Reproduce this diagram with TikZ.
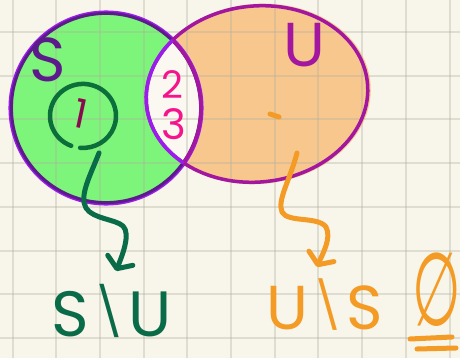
\documentclass[tikz,border=0pt]{standalone}
\usepackage{fontspec}
\setmainfont{Poppins}
\newfontfamily\dejavu{DejaVu Sans}
\usetikzlibrary{arrows.meta}
\definecolor{PaperBg}{RGB}{248,245,234}
\definecolor{LensBg}{RGB}{250,248,240}
\definecolor{GridDark}{RGB}{179,176,160}
\definecolor{FillGreen}{RGB}{125,244,122}
\definecolor{FillOrange}{RGB}{247,199,142}
\definecolor{SDark}{RGB}{92,26,138}
\definecolor{SViolet}{RGB}{156,28,238}
\definecolor{UMag}{RGB}{163,22,159}
\definecolor{RingGreen}{RGB}{11,110,59}
\definecolor{OneRed}{RGB}{139,10,79}
\definecolor{PinkPen}{RGB}{245,20,140}
\definecolor{SetGreen}{RGB}{10,107,72}
\definecolor{PenOrange}{RGB}{243,155,36}
\newcommand\handsz[1]{\fontsize{#1}{#1}\selectfont}
\newcommand\diffbar{\hspace{0.06em}\raisebox{0.1em}{\scalebox{0.75}{\textbackslash}}\hspace{0.06em}}

\begin{document}
\begin{tikzpicture}[x=1pt,y=-1pt,
    pen/.style={line width=5pt,line cap=round,line join=round},
    outl/.style={line width=3.5pt},
    lbl/.style={inner sep=0pt},
    urot/.style={rotate around={6:(257,94)}},
    barb/.style={-{Straight Barb[length=9pt,width=27pt,round]}}]
  \useasboundingbox[fill=PaperBg] (0,0) rectangle (460,358);
  \fill[FillGreen] (106,108) circle[radius=96];
  \fill[FillOrange,urot] (258,94) ellipse[x radius=113,y radius=90];
  \begin{scope}
    \clip (106,108) circle[radius=95];
    \clip[urot] (257,94) ellipse[x radius=111,y radius=88];
    \fill[LensBg] (0,0) rectangle (460,358);
  \end{scope}
  \foreach \k in {0,...,10} {
    \draw[GridDark,opacity=0.35,line width=2pt] (12.5+43.7*\k,0) -- ++(0,358);
  }
  \foreach \k in {0,...,7} {
    \draw[GridDark,opacity=0.35,line width=2pt] (0,32+43.7*\k) -- ++(460,0);
  }
  \draw[SViolet,outl] (106,108) circle[radius=95.8];
  \draw[SDark,line width=3pt] (106,108) circle[radius=94.6];
  \draw[UMag,outl,urot] (257,94) ellipse[x radius=111,y radius=88];
  \begin{scope}
    \clip[urot] (257,94) ellipse[x radius=111,y radius=88];
    \draw[UMag,outl] (106,108) circle[radius=95];
  \end{scope}
  \begin{scope}
    \clip (106,108) circle[radius=95];
    \draw[SViolet,outl,urot] (257,94) ellipse[x radius=111,y radius=88];
  \end{scope}

  \node[lbl,text=SDark,font=\handsz{62}] (sName) at (48,60) {S};
  \node[lbl,text=UMag,font=\handsz{62}] (uName) at (304,45) {U};
  \coordinate (ringC) at (83,115);
  \draw[pen,RingGreen,line width=4.5pt] (ringC) ++(111:33) arc[start angle=111,end angle=455,x radius=33,y radius=32];
  \node[lbl,text=OneRed,font=\handsz{40},rotate=-12] (oneLbl) at (81,114) {1};
  \node[lbl,text=PinkPen,font=\handsz{38}] (twoLbl) at (172,85) {2};
  \node[lbl,text=PinkPen,font=\handsz{42}] (threeLbl) at (174,124) {3};
  \coordinate (dashA) at (270,114);
  \coordinate (dashB) at (279,117);
  \draw[pen,PenOrange] (dashA) -- (dashB);

  \node[lbl,anchor=base,text=SetGreen,font=\handsz{64}] (sMinusU) at (112,336) {S\diffbar U};
  \node[lbl,anchor=base,text=PenOrange,font=\handsz{62}] (uMinusS) at (325,329) {U\diffbar S};
  \node[lbl,text=PenOrange,font=\dejavu\handsz{62}] (emptyLbl) at (437,290) {\scalebox{0.9}[1.65]{∅}};
  \coordinate (ulA) at (410,339);
  \coordinate (ulB) at (452,337);
  \coordinate (ulC) at (417,349);
  \coordinate (ulD) at (456,348);
  \draw[pen,PenOrange] (ulA) -- (ulB) (ulC) -- (ulD);

  \coordinate (sOut) at (99,153);
  \coordinate (sTip) at (116,271);
  \draw[pen,SetGreen,barb] (sOut) .. controls (90,176) and (79,196) .. (86,208)
    .. controls (93,219) and (115,219) .. (123,226) .. controls (131,234) and (122,256) .. (sTip);
  \coordinate (uOut) at (297,153);
  \coordinate (uTip) at (317,267);
  \draw[pen,PenOrange,barb] (uOut) .. controls (290,180) and (277,200) .. (282,212)
    .. controls (288,223) and (318,216) .. (326,227) .. controls (332,238) and (322,255) .. (uTip);
\end{tikzpicture}
\end{document}
